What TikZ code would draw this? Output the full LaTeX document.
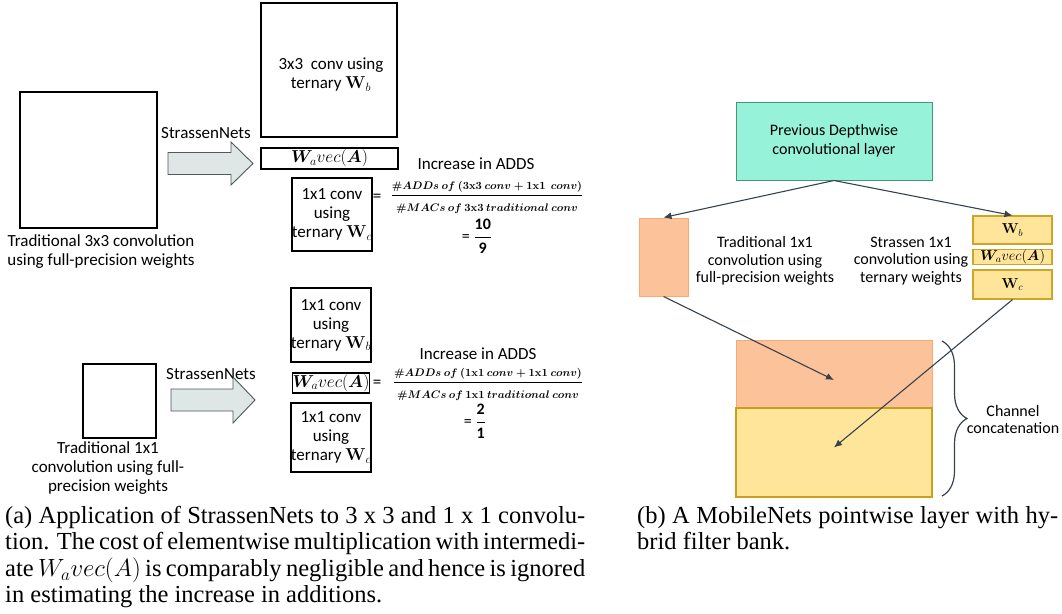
\documentclass[tikz,border=0pt]{standalone}
\usepackage{amsmath}
\usepackage{bm}
\usepackage[no-math]{fontspec}
\setmainfont{Carlito}
\newfontfamily\capfont{Liberation Serif}
\usetikzlibrary{arrows.meta,decorations.pathreplacing}
\definecolor{tealf}{RGB}{150,242,216}
\definecolor{teald}{RGB}{70,150,120}
\definecolor{orf}{RGB}{252,194,154}
\definecolor{ord}{RGB}{249,170,115}
\definecolor{yef}{RGB}{255,229,153}
\definecolor{yed}{RGB}{205,165,40}
\definecolor{arrc}{RGB}{55,66,79}
\definecolor{fatf}{RGB}{222,231,230}
\definecolor{fatd}{RGB}{80,88,90}
\newcommand{\numstrut}{\vrule depth 5pt height 0pt width 0pt}
\newcommand{\denstrut}{\vrule height 14pt depth 0pt width 0pt}
\begin{document}
\begin{tikzpicture}[x=1pt,y=-1pt,
  blk/.style={draw=black,line width=1.4pt,inner sep=0pt,align=center,font=\fontsize{17}{19}\selectfont},
  lbl/.style={inner sep=0pt,align=center,font=\fontsize{17}{19}\selectfont},
  rlbl/.style={inner sep=0pt,align=center,font=\fontsize{16}{17.5}\selectfont},
  fracn/.style={inner sep=0pt,font=\fontsize{11.3}{14}\selectfont\boldmath},
  resn/.style={inner sep=0pt,font=\fontsize{16}{17}\selectfont},
  fat/.style={draw=fatd,fill=fatf,line width=0.9pt,line join=miter},
  tealbox/.style={draw=teald,fill=tealf,line width=1pt,inner sep=0pt,align=center,font=\fontsize{16}{19}\selectfont},
  orbox/.style={draw=ord,fill=orf,line width=1pt,inner sep=0pt},
  yebox/.style={draw=yed,fill=yef,line width=1.1pt,inner sep=0pt,font=\fontsize{14}{15}\selectfont},
  con/.style={draw=arrc,line width=1.1pt,-{Latex[length=8pt,width=7pt]}},
  brc/.style={draw=arrc,line width=1.2pt,decorate,decoration={brace,amplitude=25pt}},
  captxt/.style={inner sep=0pt,align=left,anchor=north west,font=\capfont\fontsize{24.5}{26.5}\selectfont}
]
\useasboundingbox (0,0) rectangle (1062,613);

% ---------- left top ----------
\node[blk,minimum width=137pt,minimum height=136pt] (big) at (88.5,160) {};
\node[lbl] (lbig) at (101,251.5) {Traditional 3x3 convolution\\using full-precision weights};
\node[lbl] (sn1) at (206,133) {StrassenNets};
\draw[fat] (168,152.5) -- (231,152.5) -- (231,142) -- (253,163.5) -- (231,185) -- (231,174.5) -- (168,174.5) -- cycle;
\node[blk,minimum width=136pt,minimum height=134pt] (b3) at (329,70) {};
\node[lbl] (b3t) at (331,74.5) {3x3\ \ conv using\\ternary $\mathbf{W}_b$};
\node[blk,minimum width=137pt,minimum height=21pt] (wa1) at (329.5,158.5) {$\bm{W}_a vec(\bm{A})$};
\node[blk,minimum width=74pt,minimum height=73pt] (c1) at (332,214.5) {1x1 conv\\using\\ternary $\mathbf{W}_c$};
\node[lbl] (inc1) at (476,164) {Increase in ADDS};
\node[lbl] (eq1) at (377,198) {=};
\node[fracn] (fr1) at (487,197) {$\displaystyle\frac{\numstrut\#ADDs\ of\ (\mathrm{3x3}\ conv+\mathrm{1x1}\ \ conv)}{\denstrut\#MACs\ of\ \mathrm{3x3}\ traditional\ conv}$};
\node[resn] (res1) at (477,236) {= $\dfrac{\text{\bfseries 10}}{\text{\bfseries 9}}$};

% ---------- left bottom ----------
\node[blk,minimum width=73pt,minimum height=74pt] (small) at (119.5,401) {};
\node[lbl] (lsmall) at (108,468) {Traditional 1x1\\convolution using full-\\precision weights};
\node[lbl] (sn2) at (211,374) {StrassenNets};
\draw[fat] (171,389) -- (233,389) -- (233,377) -- (255,400) -- (233,423) -- (233,411) -- (171,411) -- cycle;
\node[blk,minimum width=74pt,minimum height=74pt] (bb) at (331,325) {1x1 conv\\using\\ternary $\mathbf{W}_b$};
\node[blk,minimum width=74pt,minimum height=20pt] (wa2) at (331,383) {$\bm{W}_a vec(\bm{A})$};
\node[blk,minimum width=74pt,minimum height=69pt] (bc) at (331,437.5) {1x1 conv\\using\\ternary $\mathbf{W}_c$};
\node[lbl] (inc2) at (478,354) {Increase in ADDS};
\node[lbl] (eq2) at (377,384) {=};
\node[fracn] (fr2) at (488,384) {$\displaystyle\frac{\numstrut\#ADDs\ of\ (\mathrm{1x1}\ conv+\mathrm{1x1}\ conv)}{\denstrut\#MACs\ of\ \mathrm{1x1}\ traditional\ conv}$};
\node[resn] (res2) at (475,421) {= $\dfrac{\text{\bfseries 2}}{\text{\bfseries 1}}$};

% ---------- right ----------
\node[tealbox,minimum width=196pt,minimum height=78pt] (teal) at (834,141) {Previous Depthwise\\convolutional layer};
\node[orbox,minimum width=49pt,minimum height=78pt] (or1) at (663.5,257) {};
\node[yebox,minimum width=79pt,minimum height=28pt] (wb) at (1012.5,230) {$\mathbf{W}_b$};
\node[yebox,minimum width=79pt,minimum height=14pt] (wa3) at (1012.5,257) {$\bm{W}_a vec(\bm{A})$};
\node[yebox,minimum width=79pt,minimum height=29pt] (wc) at (1012.5,284.5) {$\mathbf{W}_c$};
\node[rlbl] (t1) at (765,261) {Traditional 1x1\\convolution using\\full-precision weights};
\node[rlbl] (t2) at (911,261) {Strassen 1x1\\convolution using\\ternary weights};
\node[orbox,minimum width=196pt,minimum height=68pt] (catO) at (834,374) {};
\node[yebox,draw={rgb,255:red,200;green,160;blue,30},minimum width=196pt,minimum height=89pt] (catY) at (834,452.5) {};
\coordinate (bt) at (942,341);
\coordinate (bbm) at (942,496);
\draw[brc] (bt) -- (bbm);
\node[rlbl] (chan) at (1013,419.5) {Channel\\concatenation};
\draw[con] (teal.south) -- (or1.north);
\draw[con] (teal.south) -- (wb.north);
\draw[con] (or1.south) -- ([yshift=-6pt]catO.center);
\draw[con] (wc.south) -- ([yshift=5pt]catY.center);

% ---------- captions ----------
\node[captxt] (capa) at (5,506) {\makebox[580pt][s]{(a) Application of StrassenNets to 3 x 3 and 1 x 1 convolu-}\\
\makebox[580pt][s]{tion. The cost of elementwise multiplication with intermedi-}\\
\makebox[580pt][s]{ate $W_a vec(A)$ is comparably negligible and hence is ignored}\\
in estimating the increase in additions.};
\node[captxt] (capb) at (637,506) {\makebox[421pt][s]{(b) A MobileNets pointwise layer with hy-}\\
brid filter bank.};
\end{tikzpicture}
\end{document}
